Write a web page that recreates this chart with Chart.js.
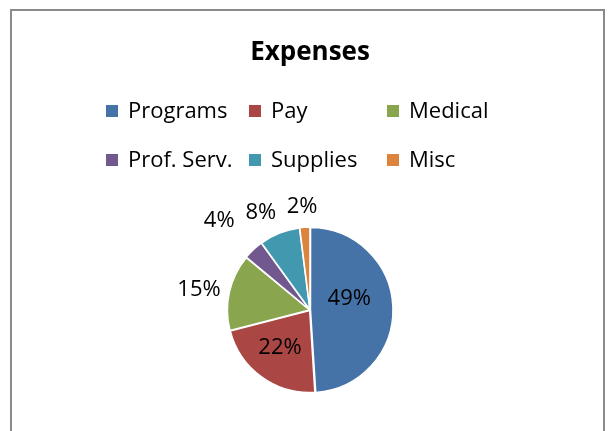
<!DOCTYPE html>
<html>
<head>
<meta charset="utf-8">
<script src="https://cdn.jsdelivr.net/npm/chart.js@4"></script>
<style>
  html, body { margin: 0; padding: 0; background: #fff; }
  #wrap { position: relative; width: 611px; height: 431px; overflow: hidden; }
  #frame { position: absolute; left: 10px; top: 9px; width: 591px; height: 440px; border: 2px solid #8a8a8a; pointer-events: none; }
  canvas { position: absolute; left: 0; top: 0; }
</style>
</head>
<body>
<div id="wrap">
  <canvas id="expensesChart" width="611" height="431"></canvas>
  <div id="frame"></div>
</div>
<script>
const categories = ['Programs', 'Pay', 'Medical', 'Prof. Serv.', 'Supplies', 'Misc'];
const shares = [49, 22, 15, 4, 8, 2];
const sliceColors = ['#4572A7', '#AA4643', '#89A54E', '#71588F', '#4198AF', '#DB843D'];

const FONT = '"Open Sans", Lato, sans-serif';

// legend drawn in Excel style: fixed columns, two rows
const gridLegend = {
  id: 'gridLegend',
  afterDraw(chart, args, opts) {
    const ctx = chart.ctx;
    const colors = chart.data.datasets[0].backgroundColor;
    ctx.save();
    ctx.font = opts.font;
    ctx.textBaseline = 'middle';
    ctx.textAlign = 'left';
    chart.data.labels.forEach((label, i) => {
      const x = opts.columns[i % opts.columns.length];
      const y = opts.rows[Math.floor(i / opts.columns.length)];
      ctx.fillStyle = colors[i];
      ctx.fillRect(x, y - opts.box / 2, opts.box, opts.box);
      ctx.fillStyle = '#000';
      ctx.fillText(label, x + opts.box + 10, y + 1);
    });
    ctx.restore();
  }
};

// percentage labels, inside for the big slices and outside for the rest
// radius = multiple of the pie radius, nudge = degrees off the slice bisector
const sliceLabels = {
  id: 'sliceLabels',
  afterDatasetsDraw(chart, args, opts) {
    const ctx = chart.ctx;
    const meta = chart.getDatasetMeta(0);
    const values = chart.data.datasets[0].data;
    ctx.save();
    ctx.font = opts.font;
    ctx.fillStyle = '#000';
    ctx.textAlign = 'center';
    ctx.textBaseline = 'middle';
    meta.data.forEach((arc, i) => {
      const p = arc.getProps(['x', 'y', 'startAngle', 'endAngle', 'outerRadius'], true);
      const mid = (p.startAngle + p.endAngle) / 2 + opts.nudge[i] * Math.PI / 180;
      const r = p.outerRadius * opts.radius[i];
      ctx.fillText(values[i] + '%', p.x + Math.cos(mid) * r, p.y + Math.sin(mid) * r);
    });
    ctx.restore();
  }
};

new Chart(document.getElementById('expensesChart'), {
  type: 'pie',
  data: {
    labels: categories,
    datasets: [{
      data: shares,
      backgroundColor: sliceColors,
      borderColor: '#ffffff',
      borderWidth: 1.5,
      offset: 2,
      radius: 82
    }]
  },
  options: {
    responsive: false,
    animation: false,
    events: [],
    layout: { padding: { left: 9, right: 0, top: 0, bottom: 11 } },
    plugins: {
      legend: { display: false },
      tooltip: { enabled: false },
      title: {
        display: true,
        text: 'Expenses',
        color: '#000',
        font: { family: FONT, size: 26, weight: 'bold', lineHeight: 1.2 },
        padding: { top: 37, bottom: 132 }
      },
      gridLegend: {
        font: '22px ' + FONT,
        columns: [106, 249, 387],
        rows: [111, 160],
        box: 12
      },
      sliceLabels: {
        font: '22px ' + FONT,
        radius: [0.5, 0.59, 1.375, 1.55, 1.33, 1.26],
        nudge: [-15, 2.3, -2.4, -2.4, -5.2, -0.8]
      }
    }
  },
  plugins: [gridLegend, sliceLabels]
});
</script>
</body>
</html>
